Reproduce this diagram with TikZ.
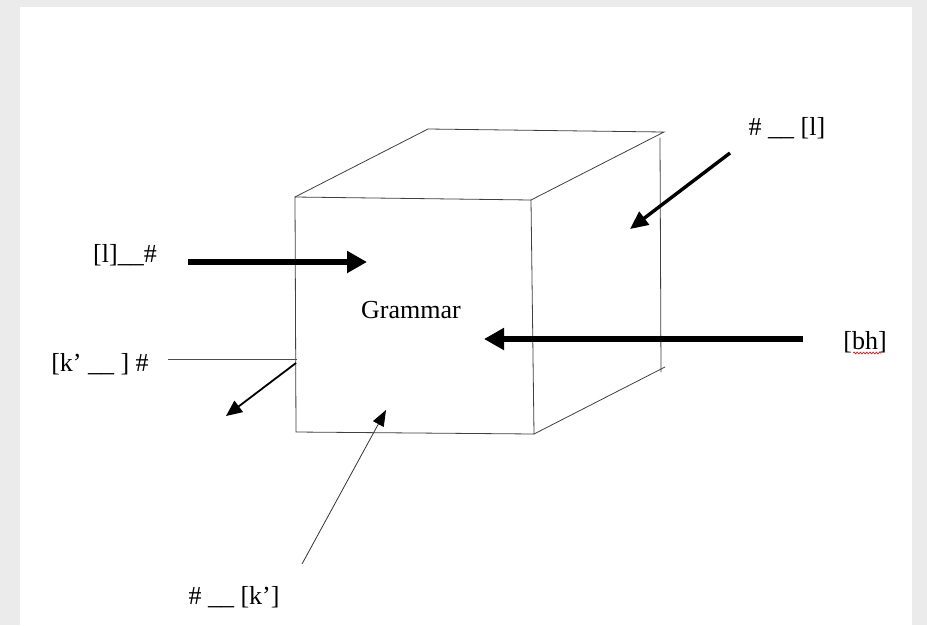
\documentclass[tikz,border=0pt]{standalone}
\usepackage{fontspec}
\setmainfont{Liberation Serif}
\usetikzlibrary{arrows.meta,decorations.pathmorphing}
\begin{document}
\begin{tikzpicture}[x=1pt,y=-1pt,
  lbl/.style={font=\fontsize{26}{30}\selectfont, anchor=base, inner sep=0pt},
  cubeedge/.style={line width=0.8pt, black!75, line cap=round},
  bigarrow/.style={line width=6.5pt, -{Triangle[length=20pt,width=21pt]}},
  midarrow/.style={line width=3.4pt, -{Triangle[length=18pt,width=16pt]}},
  smallarrow/.style={line width=1.8pt, -{Triangle[length=16pt,width=14pt]}},
  thinarrow/.style={line width=0.8pt, black!80, -{Triangle[length=16pt,width=12pt,color=black]}},
  thinline/.style={line width=0.8pt, black!70}]
\useasboundingbox (0,0) rectangle (927,625);
\fill[gray!16] (0,0) rectangle (927,625);
\fill[white] (20,7) rectangle (912,625);

% cube corners
\coordinate (F1) at (295,197);
\coordinate (F2) at (531,200);
\coordinate (F3) at (534,434);
\coordinate (F4) at (296,432);
\coordinate (B1) at (428,129);
\coordinate (B2) at (664,132);
\coordinate (V1) at (660,138);
\coordinate (V2) at (661,372);
\coordinate (D2) at (665,367);

\draw[cubeedge] (F4) -- (F1) -- (F2) -- (F3) -- cycle;
\draw[cubeedge] (F1) -- (B1) -- (B2) -- (F2);
\draw[cubeedge] (V1) -- (V2);
\draw[cubeedge] (F3) -- (D2);

% labels
\node[lbl] (g)  at (411,318) {Grammar};
\node[lbl] (l1) at (125,262) {[l]\_\_\#};
\node[lbl] (k1) at (100,371) {[k’ \_\_ ] \#};
\node[lbl] (l2) at (787,135) {\# \_\_ [l]};
\node[lbl] (bh) at (865,349) {[bh]};
\node[lbl] (k2) at (234,604) {\# \_\_ [k’]};

% arrow end points
\coordinate (a1s) at (188,262);
\coordinate (a1e) at (367,262);
\coordinate (a2s) at (803,339);
\coordinate (a2e) at (484,339);
\coordinate (a3s) at (730,153);
\coordinate (a3e) at (630,229);
\coordinate (h1) at (168,359);
\coordinate (h2) at (297,359);
\coordinate (a5s) at (296,363);
\coordinate (a5e) at (226,416);
\coordinate (a6s) at (302,564);
\coordinate (a6e) at (386,410);

\draw[bigarrow] (a1s) -- (a1e);
\draw[bigarrow] (a2s) -- (a2e);
\draw[midarrow] (a3s) -- (a3e);
\draw[thinline] (h1) -- (h2);
\draw[smallarrow] (a5s) -- (a5e);
\draw[thinarrow] (a6s) -- (a6e);

% spell-check underline
\draw[red, line width=0.6pt, decorate, decoration={snake, amplitude=0.9pt, segment length=3.2pt}]
  ([xshift=-12pt,yshift=-4pt]bh.base) -- ([xshift=16pt,yshift=-4pt]bh.base);
\end{tikzpicture}
\end{document}
